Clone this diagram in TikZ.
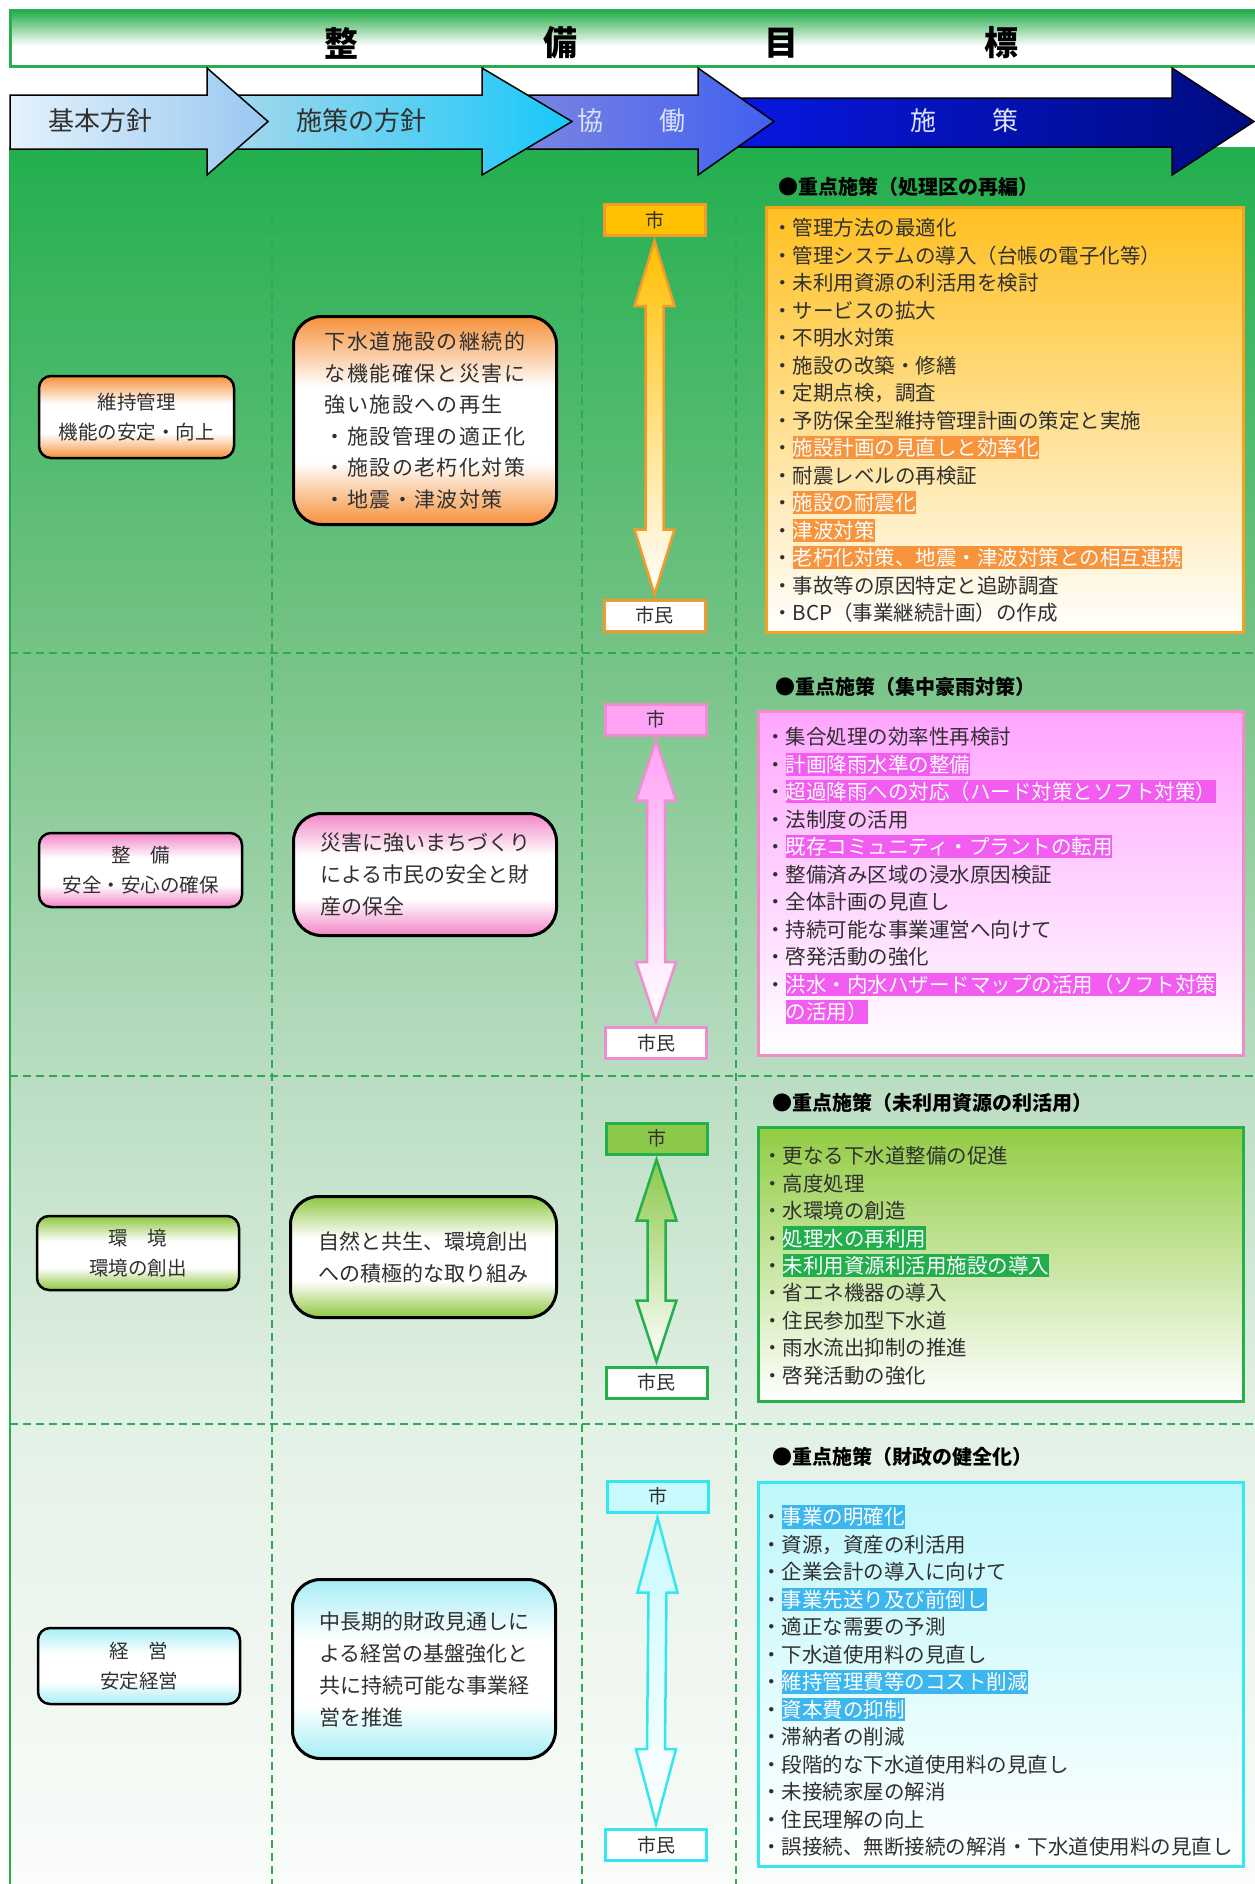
\documentclass[tikz,border=0pt]{standalone}
\usepackage{fontspec}
\setmainfont{Noto Sans CJK JP}
\newfontfamily\widecjk{Noto Sans CJK JP}[LetterSpace=7]
\usetikzlibrary{calc}

\definecolor{txt}{HTML}{303030}
\definecolor{bgA}{HTML}{FAFCFA}
\definecolor{bgB}{HTML}{E4F1E6}
\definecolor{bgC}{HTML}{BADDC2}
\definecolor{bgD}{HTML}{76C386}
\definecolor{bgE}{HTML}{22AF4E}
\definecolor{ttlG}{HTML}{28AE50}
\definecolor{ttlM}{HTML}{8ED3A0}
\definecolor{divG}{HTML}{2EAA55}
\definecolor{cOr}{HTML}{F5913A}
\definecolor{cPk}{HTML}{F286C6}
\definecolor{cGr}{HTML}{8DC63F}
\definecolor{cCy}{HTML}{A6EEF6}
% right boxes
\definecolor{fO}{HTML}{FFC020}\definecolor{bO}{HTML}{F5A21F}\definecolor{hO}{HTML}{F7943C}
\definecolor{fP}{HTML}{FFA6FF}\definecolor{bP}{HTML}{F28CC8}\definecolor{hP}{HTML}{F25CF0}
\definecolor{fG}{HTML}{92CC44}\definecolor{bG}{HTML}{26B04A}\definecolor{hG}{HTML}{22AE4C}
\definecolor{fC}{HTML}{BFF7FB}\definecolor{bC}{HTML}{35E8F2}\definecolor{hC}{HTML}{3CB6EE}
% city boxes
\definecolor{kO}{HTML}{FFC000}\definecolor{kOb}{HTML}{F39A2B}
\definecolor{kP}{HTML}{FFA3F5}\definecolor{kPb}{HTML}{F08CD0}
\definecolor{kG}{HTML}{8CC84A}\definecolor{kGb}{HTML}{22B04A}
\definecolor{kC}{HTML}{C8FAFF}\definecolor{kCb}{HTML}{33E6F0}
% header arrows
\definecolor{a1L}{HTML}{E4F2FB}\definecolor{a1R}{HTML}{98C8F0}
\definecolor{a2L}{HTML}{A8D8EC}\definecolor{a2R}{HTML}{18C8F8}
\definecolor{a3L}{HTML}{8088E0}\definecolor{a3R}{HTML}{4060F0}
\definecolor{a4L}{HTML}{0818E8}\definecolor{a4R}{HTML}{000C80}
\definecolor{atxt}{HTML}{DDE4FF}

\pgfdeclareverticalshading{bgsh}{100bp}{color(0bp)=(bgA); color(25bp)=(bgA); color(38.2bp)=(bgB); color(48.3bp)=(bgC); color(60.4bp)=(bgD); color(75bp)=(bgE); color(100bp)=(bgE)}
\pgfdeclareverticalshading{ttlsh}{100bp}{color(0bp)=(white); color(25bp)=(white); color(44bp)=(white); color(60bp)=(ttlM); color(75bp)=(ttlG); color(100bp)=(ttlG)}
\pgfdeclareverticalshading{shO}{100bp}{color(0bp)=(cOr); color(25bp)=(cOr); color(40bp)=(white); color(58bp)=(white); color(75bp)=(cOr); color(100bp)=(cOr)}
\pgfdeclareverticalshading{shP}{100bp}{color(0bp)=(cPk); color(25bp)=(cPk); color(40bp)=(white); color(58bp)=(white); color(75bp)=(cPk); color(100bp)=(cPk)}
\pgfdeclareverticalshading{shG}{100bp}{color(0bp)=(cGr); color(25bp)=(cGr); color(40bp)=(white); color(58bp)=(white); color(75bp)=(cGr); color(100bp)=(cGr)}
\pgfdeclareverticalshading{shC}{100bp}{color(0bp)=(cCy); color(25bp)=(cCy); color(40bp)=(white); color(58bp)=(white); color(75bp)=(cCy); color(100bp)=(cCy)}

\tikzset{
  lbox/.style={draw=black, line width=2.5pt, rounded corners=12pt, inner sep=0pt, align=center, text=txt, font=\fontsize{19.5}{30}\selectfont},
  mbox/.style={draw=black, line width=3pt, rounded corners=28pt, inner sep=0pt, align=left, text=txt, font=\fontsize{21}{32}\selectfont},
  rbox/.style={line width=3pt, inner sep=0pt, bottom color=white},
  hdr/.style={anchor=west, inner sep=0pt, text=black, font=\fontsize{20}{20}\selectfont\bfseries},
  item/.style={anchor=base west, inner sep=0pt, text=txt, font=\fontsize{20.5}{20.5}\selectfont},
  citybox/.style={line width=3pt, minimum width=101pt, minimum height=31pt, inner sep=0pt, text=txt, font=\fontsize{19}{19}\selectfont},
  divider/.style={draw=divG, line width=1.3pt, dash pattern=on 8pt off 5pt},
  hdarrow/.style={draw=black, line width=1.5pt, line join=miter},
  arrtext/.style={inner sep=0pt, font=\fontsize{26}{26}\selectfont},
  ttltext/.style={inner sep=0pt, text=black, font=\fontsize{34}{34}\selectfont\bfseries},
}

\newcommand\hl[2]{{\setlength{\fboxsep}{0pt}\colorbox{#1}{\rule[-0.18em]{0pt}{1.14em}\textcolor{white}{#2}}}}
\newcommand\itemlist[5]{%
  \foreach \itm [count=\i] in {#5} {
    \node[item] (#1\i) at (#2, {#3+(\i-1)*#4+7.8}) {\itm};
  }}
% #1 top node, #2 bottom node, #3 head length, #4 top colour, #5 line colour
\newcommand\duarrow[5]{%
  \path[draw=#5, line width=2.5pt, top color=#4, bottom color=white, line join=miter]
   ($(#1.south)+(0,4)$) -- ++(20,#3) -- ++(-11,0) -- ($(#2.north)+(9,-4-#3)$) -- ++(11,0)
   -- ($(#2.north)+(0,-4)$) -- ++(-20,-#3) -- ++(11,0) -- ($(#1.south)+(-9,4+#3)$) -- ++(-11,0) -- cycle;}

\begin{document}
\begin{tikzpicture}[x=1pt,y=-1pt]
\useasboundingbox (0,0) rectangle (1255,1884);
\fill[white] (0,0) rectangle (1255,1884);

% green background
\path[shading=bgsh] (10,147) rectangle (1262,1890);
\draw[ttlG, line width=2.5pt] (10,147) -- (10,1890);

% title bar
\path[shading=ttlsh, draw=ttlG, line width=3pt] (10,11) rectangle (1270,67);
\node[ttltext] (t1) at (341,43) {整};
\node[ttltext] (t2) at (560,43) {備};
\node[ttltext] (t3) at (781,43) {目};
\node[ttltext] (t4) at (1001,43) {標};

% header arrows (drawn right to left so heads overlap)
\path[hdarrow, left color=a4L, right color=a4R] (700,98) -- (1172,98) -- (1172,68) -- (1254,121.5) -- (1172,175) -- (1172,147) -- (700,147) -- cycle;
\path[hdarrow, left color=a3L, right color=a3R] (500,95) -- (698,95) -- (698,68) -- (774,121.5) -- (698,175) -- (698,149) -- (500,149) -- cycle;
\path[hdarrow, left color=a2L, right color=a2R] (220,95) -- (482,95) -- (482,68) -- (572,121.5) -- (482,175) -- (482,149) -- (220,149) -- cycle;
\path[hdarrow, left color=a1L, right color=a1R] (10,95) -- (207,95) -- (207,68) -- (268,121.5) -- (207,175) -- (207,149) -- (10,149) -- cycle;
\node[arrtext, text=txt] (h1) at (100,121) {基本方針};
\node[arrtext, text=txt] (h2) at (361,121) {施策の方針};
\node[arrtext, text=atxt] (h3a) at (590,121) {協};
\node[arrtext, text=atxt] (h3b) at (672,121) {働};
\node[arrtext, text=atxt] (h4a) at (923,121) {施};
\node[arrtext, text=atxt] (h4b) at (1005,121) {策};

% dividers
\draw[divider] (272,176) -- (272,1884);
\draw[divider] (582,176) -- (582,1884);
\draw[divider] (736,176) -- (736,1884);
\draw[divider] (10,653) -- (1255,653);
\draw[divider] (10,1076) -- (1255,1076);
\draw[divider] (10,1424) -- (1255,1424);

% ---------- row 1 ----------
\node[lbox, shading=shO, minimum width=195pt, minimum height=82pt] (l1) at (136.5,417) {維持管理\\機能の安定・向上};
\node[mbox, shading=shO, minimum width=263pt, minimum height=208pt, font=\widecjk\fontsize{21}{31.5}\selectfont] (m1) at (425,420.5)
  {下水道施設の継続的\\な機能確保と災害に\\強い施設への再生\\・施設管理の適正化\\・施設の老朽化対策\\・地震・津波対策};
\node[citybox, fill=kO, draw=kOb] (c1) at (654.5,220) {市};
\node[citybox, fill=white, draw=kOb] (s1) at (654.5,615.5) {市民};
\duarrow{c1}{s1}{65}{kO}{kOb}
\node[hdr] (hd1) at (778,187) {●重点施策（処理区の再編）};
\node[rbox, draw=bO, top color=fO, minimum width=477pt, minimum height=425pt] (rb1) at (1005,420) {};
\itemlist{ra}{772}{228}{27.5}{
 {・管理方法の最適化},
 {・管理システムの導入（台帳の電子化等）},
 {・未利用資源の利活用を検討},
 {・サービスの拡大},
 {・不明水対策},
 {・施設の改築・修繕},
 {・定期点検，調査},
 {・予防保全型維持管理計画の策定と実施},
 {・\hl{hO}{施設計画の見直しと効率化}},
 {・耐震レベルの再検証},
 {・\hl{hO}{施設の耐震化}},
 {・\hl{hO}{津波対策}},
 {・\hl{hO}{老朽化対策、地震・津波対策との相互連携}},
 {・事故等の原因特定と追跡調査},
 {・BCP（事業継続計画）の作成}}

% ---------- row 2 ----------
\node[lbox, shading=shP, minimum width=203pt, minimum height=74pt] (l2) at (140.5,870) {整　備\\安全・安心の確保};
\node[mbox, shading=shP, minimum width=263pt, minimum height=122pt] (m2) at (425,874.5)
  {災害に強いまちづくり\\による市民の安全と財\\産の保全};
\node[citybox, fill=kP, draw=kPb] (c2) at (656,719.5) {市};
\node[citybox, fill=white, draw=kPb] (s2) at (656,1043) {市民};
\duarrow{c2}{s2}{60}{kP}{kPb}
\node[hdr] (hd2) at (775,687) {●重点施策（集中豪雨対策）};
\node[rbox, draw=bP, top color=fP, minimum width=485pt, minimum height=344pt] (rb2) at (1001,883.5) {};
\itemlist{rp}{765}{737}{27.5}{
 {・集合処理の効率性再検討},
 {・\hl{hP}{計画降雨水準の整備}},
 {・\hl{hP}{超過降雨への対応（ハード対策とソフト対策）}},
 {・法制度の活用},
 {・\hl{hP}{既存コミュニティ・プラントの転用}},
 {・整備済み区域の浸水原因検証},
 {・全体計画の見直し},
 {・持続可能な事業運営へ向けて},
 {・啓発活動の強化},
 {・\hl{hP}{洪水・内水ハザードマップの活用（ソフト対策}},
 {\phantom{・}\hl{hP}{の活用）}}}

% ---------- row 3 ----------
\node[lbox, shading=shG, minimum width=202pt, minimum height=74pt] (l3) at (138,1253) {環　境\\環境の創出};
\node[mbox, shading=shG, minimum width=266pt, minimum height=121pt] (m3) at (423.5,1257)
  {自然と共生、環境創出\\への積極的な取り組み};
\node[citybox, fill=kG, draw=kGb] (c3) at (656.5,1138.5) {市};
\node[citybox, fill=white, draw=kGb] (s3) at (656.5,1382.5) {市民};
\duarrow{c3}{s3}{61}{kG}{kGb}
\node[hdr] (hd3) at (772,1103) {●重点施策（未利用資源の利活用）};
\node[rbox, draw=bG, top color=fG, minimum width=485pt, minimum height=274pt] (rb3) at (1001,1264.5) {};
\itemlist{rg}{762}{1156}{27.4}{
 {・更なる下水道整備の促進},
 {・高度処理},
 {・水環境の創造},
 {・\hl{hG}{処理水の再利用}},
 {・\hl{hG}{未利用資源利活用施設の導入}},
 {・省エネ機器の導入},
 {・住民参加型下水道},
 {・雨水流出抑制の推進},
 {・啓発活動の強化}}

% ---------- row 4 ----------
\node[lbox, shading=shC, minimum width=202pt, minimum height=76pt] (l4) at (139,1666) {経　営\\安定経営};
\node[mbox, shading=shC, minimum width=263pt, minimum height=179pt] (m4) at (424,1669)
  {中長期的財政見通しに\\よる経営の基盤強化と\\共に持続可能な事業経\\営を推進};
\node[citybox, fill=kC, draw=kCb] (c4) at (657.5,1496.5) {市};
\node[citybox, fill=white, draw=kCb] (s4) at (656,1845) {市民};
\duarrow{c4}{s4}{75}{kC}{kCb}
\node[hdr] (hd4) at (772,1457) {●重点施策（財政の健全化）};
\node[rbox, draw=bC, top color=fC, minimum width=485pt, minimum height=384pt] (rb4) at (1001,1674.5) {};
\itemlist{rc}{761}{1517}{27.5}{
 {・\hl{hC}{事業の明確化}},
 {・資源，資産の利活用},
 {・企業会計の導入に向けて},
 {・\hl{hC}{事業先送り及び前倒し}},
 {・適正な需要の予測},
 {・下水道使用料の見直し},
 {・\hl{hC}{維持管理費等のコスト削減}},
 {・\hl{hC}{資本費の抑制}},
 {・滞納者の削減},
 {・段階的な下水道使用料の見直し},
 {・未接続家屋の解消},
 {・住民理解の向上},
 {・誤接続、無断接続の解消・下水道使用料の見直し}}
\end{tikzpicture}
\end{document}
